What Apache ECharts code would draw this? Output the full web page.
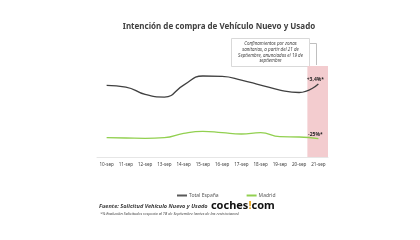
<!DOCTYPE html>
<html><head><meta charset="utf-8">
<script src="https://cdn.jsdelivr.net/npm/echarts@6/dist/echarts.min.js"></script>
<style>html,body{margin:0;padding:0;background:#fff}#c{width:420px;height:240px}</style>
</head><body><div id="c"></div>
<script>
const categories = ['10-sep','11-sep','12-sep','13-sep','14-sep','15-sep','16-sep','17-sep','18-sep','19-sep','20-sep','21-sep'];
const totalEspana = [78.6, 76.9, 68.7, 65.9, 79.0, 89.0, 88.5, 84.6, 79.1, 73.6, 70.9, 80.2];
const madrid = [21.2, 20.9, 20.5, 21.2, 26.0, 28.2, 26.7, 25.3, 26.7, 22.3, 22.0, 20.1];
const endLabels = ['+3,4%*', '-25%*'];
const shadedCategory = '21-sep';
const yMin = 0, yMax = 100;

const FF = '"Noto Sans", "Open Sans", sans-serif';
const chart = echarts.init(document.getElementById('c'), null, {renderer:'canvas'});

function withEndLabel(arr, text) {
  return arr.map((v, i) => i === arr.length - 1 ? {
    value: v,
    label: {show: true, formatter: text, position: 'top', offset: [-3, 1], distance: 3,
      fontSize: 5, fontWeight: 'bold', color: '#222', fontFamily: FF}
  } : v);
}

chart.setOption({
  backgroundColor: '#fff',
  animation: false,
  title: {
    text: 'Intención de compra de Vehículo Nuevo y Usado',
    left: 214, top: 18, textAlign: 'center',
    textStyle: {fontSize: 8, fontWeight: 'bold', color: '#404040', fontFamily: FF}
  },
  grid: {left: 97, right: 92, top: 66, bottom: 83},
  legend: {
    data: ['Total España', 'Madrid'],
    left: 172, top: 188, itemGap: 28,
    icon: 'rect', itemWidth: 10, itemHeight: 2,
    textStyle: {fontSize: 5, color: '#595959', fontFamily: FF, padding: [0, 0, 0, -3]}
  },
  xAxis: [{
    type: 'category', data: categories, boundaryGap: true,
    axisLine: {show: true, lineStyle: {color: '#e6e6e6', width: 1}},
    axisTick: {show: false},
    axisLabel: {fontSize: 4.6, color: '#404040', margin: 5, fontFamily: FF, interval: 0}
  }],
  yAxis: [{
    type: 'value', min: yMin, max: yMax,
    show: false, splitLine: {show: false}
  }],
  series: [
    {
      name: 'shade', type: 'bar', silent: true, z: 0,
      data: categories.map(c => c === shadedCategory ? yMax : null),
      barWidth: 22, itemStyle: {color: '#f3cccf'}
    },
    {
      name: 'Total España', type: 'line', smooth: 0.5, symbol: 'circle', symbolSize: 0.01, showSymbol: true, z: 3,
      data: withEndLabel(totalEspana, endLabels[0]),
      lineStyle: {color: '#404040', width: 1.3}, itemStyle: {color: '#595959'}
    },
    {
      name: 'Madrid', type: 'line', smooth: 0.5, symbol: 'circle', symbolSize: 0.01, showSymbol: true, z: 3,
      data: withEndLabel(madrid, endLabels[1]),
      lineStyle: {color: '#92d050', width: 1.3}, itemStyle: {color: '#92d050'}
    }
  ],
  graphic: [
    {type: 'rect', shape: {x: 231.5, y: 38.5, width: 78, height: 28},
     style: {fill: '#fff', stroke: '#d9d9d9', lineWidth: 1}},
    {type: 'text', x: 270.5, y: 52.5,
     style: {text: 'Confinamientos por zonas\nsanitarias, a partir del 21 de\nSeptiembre, anunciados el 19 de\nseptiembre',
       fontSize: 4.5, fontStyle: 'italic', fill: '#404040', align: 'center', verticalAlign: 'middle',
       lineHeight: 5.6, fontFamily: FF}},
    {type: 'polyline', shape: {points: [[310, 43.5], [316.5, 43.5], [316.5, 65]]},
     style: {stroke: '#bfbfbf', lineWidth: 1, fill: null}},
    {type: 'text', left: 99, top: 200,
     style: {
       text: '{f|Fuente: Solicitud Vehículo Nuevo y Usado} {l|coches}{d|!}{l|com}',
       verticalAlign: 'middle',
       rich: {
         f: {fontSize: 5.6, fontStyle: 'italic', fontWeight: 'bold', fill: '#404040', fontFamily: FF},
         l: {fontSize: 11, fontWeight: 'bold', fill: '#111', fontFamily: FF},
         d: {fontSize: 11, fontWeight: 'bold', fill: '#e8a317', fontFamily: FF}
       }
     }},
    {type: 'text', left: 100, top: 212,
     style: {text: '*% Evolución Solicitudes respecto al 18 de Septiembre (antes de las restricciones)',
       fontSize: 3.9, fontStyle: 'italic', fill: '#404040', fontFamily: FF}}
  ]
});
</script></body></html>
